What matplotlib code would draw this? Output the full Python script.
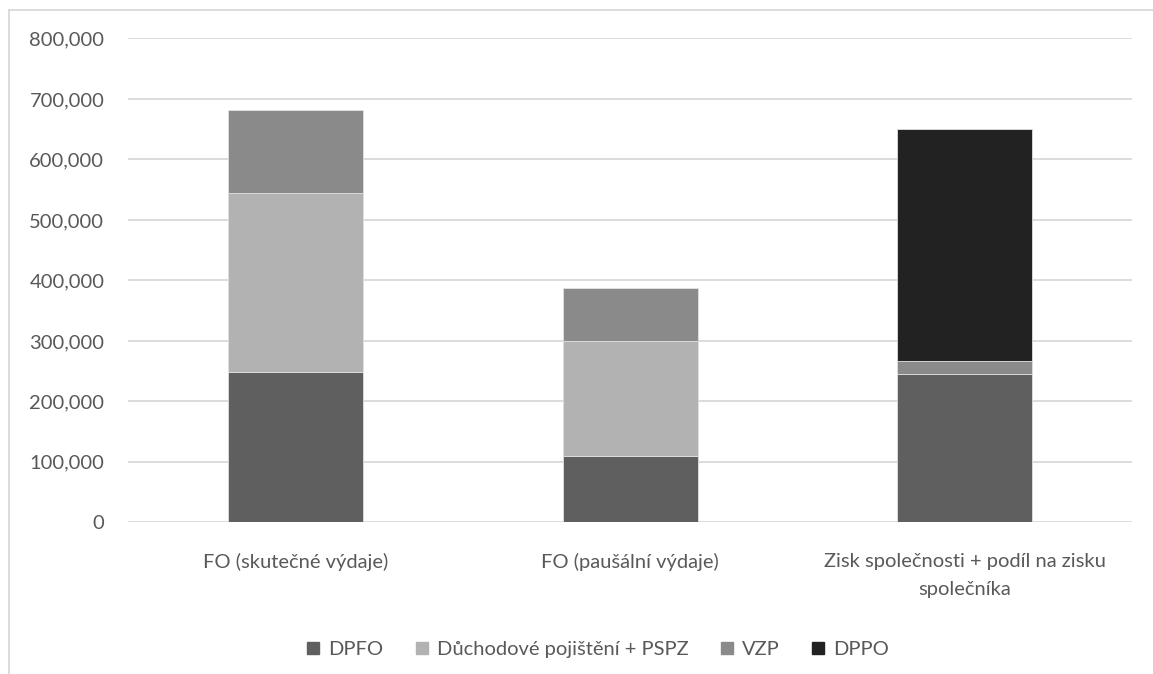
import matplotlib
matplotlib.use("Agg")
import matplotlib.pyplot as plt
from matplotlib.lines import Line2D
from matplotlib.ticker import FuncFormatter
import numpy as np

plt.rcParams['font.family'] = ['Lato', 'DejaVu Sans']

categories = ["FO (skutečné výdaje)", "FO (paušální výdaje)",
              "Zisk společnosti + podíl na zisku\nspolečníka"]
series_names = ["DPFO", "Důchodové pojištění + PSPZ", "VZP", "DPPO"]
dpfo = [249000, 110000, 244600]
duchodove = [296000, 190000, 0]
vzp = [136500, 88000, 21500]
dppo = [0, 0, 383600]
series_values = [dpfo, duchodove, vzp, dppo]
series_colors = ["#5f5f5f", "#b2b2b2", "#8a8a8a", "#222222"]
y_ticks = [0, 100000, 200000, 300000, 400000, 500000, 600000, 700000, 800000]

text_color = "#595959"
grid_color = "#d9d9d9"

fig = plt.figure(figsize=(11.53, 6.74), dpi=100)
ax = fig.add_axes([0.111, 0.225, 0.871, 0.718])

x = np.arange(len(categories))
bottom = np.zeros(len(categories))
handles = []
for name, vals, col in zip(series_names, series_values, series_colors):
    vals = np.array(vals, dtype=float)
    ax.bar(x, vals, width=0.403, bottom=bottom, color=col, label=name,
           edgecolor="#e0e0e0", linewidth=0.6, zorder=3)
    bottom += vals
    handles.append(Line2D([], [], marker='s', linestyle='None', markersize=9,
                          markerfacecolor=col, markeredgecolor=col, label=name))

ax.set_xlim(-0.5, len(categories) - 0.5)
ax.set_ylim(0, 800000)
ax.set_yticks(y_ticks)
ax.yaxis.set_major_formatter(FuncFormatter(lambda v, p: f"{int(v):,}"))
ax.set_xticks(x)
ax.set_xticklabels(categories, linespacing=1.8)

ax.grid(axis='y', color=grid_color, linewidth=1.3, zorder=0)
for s in ax.spines.values():
    s.set_visible(False)
ax.tick_params(axis='both', length=0, labelsize=14.5, colors=text_color)
ax.tick_params(axis='y', pad=17)
ax.tick_params(axis='x', pad=22)

fig.legend(handles=handles, loc='center', bbox_to_anchor=(0.518, 0.037),
           ncol=4, frameon=False, fontsize=14.5, labelcolor=text_color,
           handletextpad=0.35, columnspacing=1.5, handlelength=0.8)

# chart-area border (left and top edges)
fig.add_artist(Line2D([9 / 1153, 9 / 1153], [0, 1 - 10 / 674],
                      transform=fig.transFigure, color=grid_color, linewidth=1.3))
fig.add_artist(Line2D([9 / 1153, 1], [1 - 10 / 674, 1 - 10 / 674],
                      transform=fig.transFigure, color=grid_color, linewidth=1.3))

fig.savefig("out.png", dpi=100, facecolor="white")
